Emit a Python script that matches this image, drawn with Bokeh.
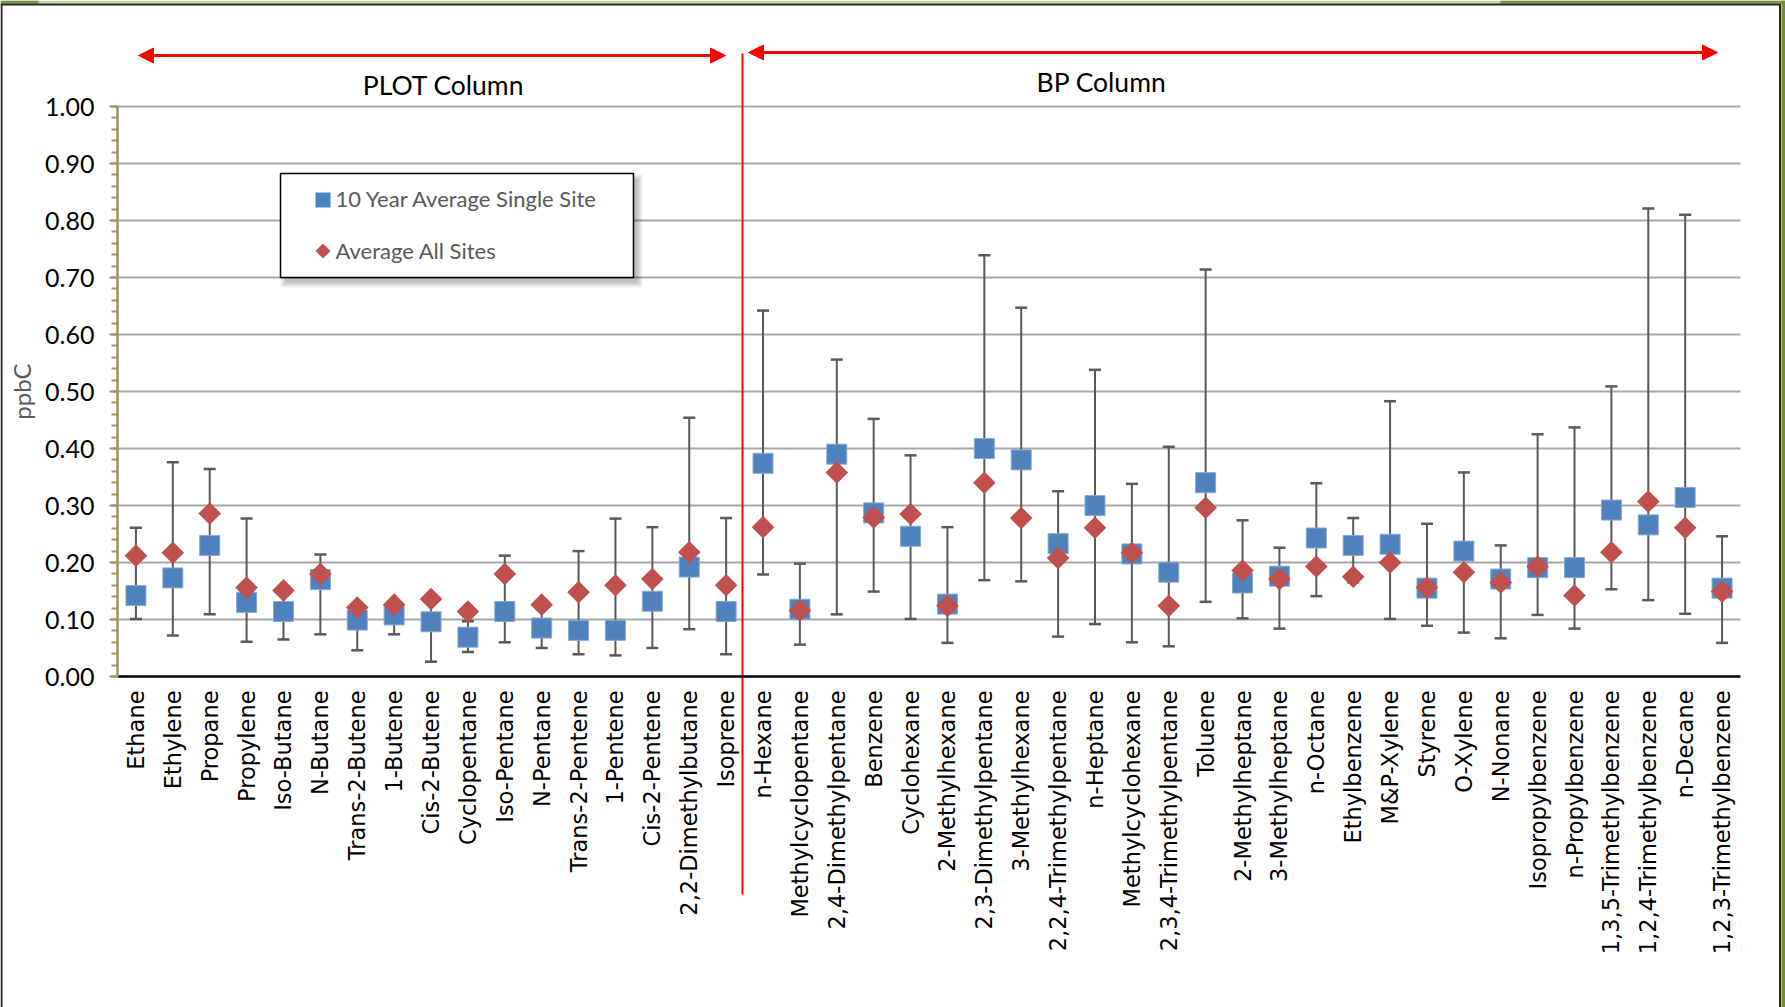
import numpy as np
from bokeh.plotting import figure
from bokeh.models import (ColumnDataSource, Range1d, LinearAxis, FixedTicker,
                          NumeralTickFormatter, Arrow, NormalHead)
from bokeh.core.properties import value
from bokeh.embed import file_html
from bokeh.resources import INLINE

# ---------------------------------------------------------------- data (ppbC)
compounds = [
    "Ethane", "Ethylene", "Propane", "Propylene", "Iso-Butane", "N-Butane",
    "Trans-2-Butene", "1-Butene", "Cis-2-Butene", "Cyclopentane", "Iso-Pentane",
    "N-Pentane", "Trans-2-Pentene", "1-Pentene", "Cis-2-Pentene",
    "2,2-Dimethylbutane", "Isoprene",
    "n-Hexane", "Methylcyclopentane", "2,4-Dimethylpentane", "Benzene",
    "Cyclohexane", "2-Methylhexane", "2,3-Dimethylpentane", "3-Methylhexane",
    "2,2,4-Trimethylpentane", "n-Heptane", "Methylcyclohexane",
    "2,3,4-Trimethylpentane", "Toluene", "2-Methylheptane", "3-Methylheptane",
    "n-Octane", "Ethylbenzene", "M&P-Xylene", "Styrene", "O-Xylene", "N-Nonane",
    "Isopropylbenzene", "n-Propylbenzene", "1,3,5-Trimethylbenzene",
    "1,2,4-Trimethylbenzene", "n-Decane", "1,2,3-Trimethylbenzene",
]
single_site = [
    0.142, 0.173, 0.230, 0.130, 0.114, 0.170, 0.099, 0.108, 0.096, 0.069, 0.114,
    0.085, 0.081, 0.081, 0.132, 0.192, 0.114,
    0.374, 0.118, 0.390, 0.287, 0.246, 0.127, 0.400, 0.380, 0.233, 0.300, 0.215,
    0.183, 0.340, 0.164, 0.176, 0.243, 0.230, 0.232, 0.155, 0.220, 0.171, 0.191,
    0.191, 0.292, 0.266, 0.314, 0.155,
]
all_sites = [
    0.212, 0.217, 0.286, 0.156, 0.151, 0.180, 0.121, 0.126, 0.136, 0.114, 0.180,
    0.126, 0.148, 0.160, 0.171, 0.218, 0.160,
    0.262, 0.116, 0.358, 0.279, 0.285, 0.124, 0.340, 0.278, 0.208, 0.261, 0.217,
    0.124, 0.296, 0.186, 0.171, 0.193, 0.175, 0.200, 0.156, 0.183, 0.165, 0.193,
    0.142, 0.218, 0.307, 0.261, 0.149,
]
range_low = [
    0.101, 0.072, 0.109, 0.061, 0.065, 0.074, 0.046, 0.074, 0.026, 0.043, 0.060,
    0.050, 0.039, 0.037, 0.050, 0.083, 0.039,
    0.179, 0.056, 0.109, 0.149, 0.101, 0.059, 0.169, 0.167, 0.070, 0.092, 0.060,
    0.053, 0.131, 0.102, 0.084, 0.141, 0.165, 0.101, 0.089, 0.077, 0.067, 0.108,
    0.084, 0.153, 0.134, 0.110, 0.059,
]
range_high = [
    0.261, 0.376, 0.364, 0.277, 0.150, 0.214, 0.118, 0.124, 0.130, 0.097, 0.212,
    0.123, 0.220, 0.277, 0.262, 0.454, 0.278,
    0.642, 0.198, 0.556, 0.452, 0.388, 0.262, 0.739, 0.647, 0.325, 0.538, 0.338,
    0.403, 0.714, 0.274, 0.226, 0.339, 0.278, 0.483, 0.268, 0.358, 0.230, 0.425,
    0.437, 0.509, 0.821, 0.810, 0.246,
]
n_plot_column = 17
y_ticks = [0.0, 0.1, 0.2, 0.3, 0.4, 0.5, 0.6, 0.7, 0.8, 0.9, 1.0]
series_names = ["10 Year Average Single Site", "Average All Sites"]
column_names = ["PLOT Column", "BP Column"]
y_title = "ppbC"

# ---------------------------------------------------------------- page geometry
W, H = 1785, 1007
FRAME_L, FRAME_R = 117, 1740      # pixel span of the category area
FRAME_TOP, FRAME_BOTTOM = 106, 676  # pixel rows of 1.00 and 0.00
n = len(compounds)
px_x = (FRAME_R - FRAME_L) / n
px_y = (FRAME_BOTTOM - FRAME_TOP) / (y_ticks[-1] - y_ticks[0])


def dx(px):
    return (px - FRAME_L) / px_x


def dy(py):
    return (FRAME_BOTTOM - py) / px_y


BLUE = "#4F81BD"
RED = "#C0504D"
ERR = "#595959"
GRID = "#A6A6A6"
KHAKI = "#A0925C"

p = figure(width=W, height=H, output_backend="svg", toolbar_location=None,
           x_range=Range1d(dx(0), dx(W)), y_range=Range1d(dy(H), dy(0)),
           x_axis_location=None, y_axis_location=None, min_border=0,
           outline_line_color=None, background_fill_color="white",
           border_fill_color="white")
p.xgrid.visible = False
p.ygrid.visible = False

# ---------------------------------------------------------------- axes
minor = [round(0.02 * k, 2) for k in range(51)]
y_axis = LinearAxis(
    fixed_location=0, bounds=(y_ticks[0], y_ticks[-1]),
    ticker=FixedTicker(ticks=y_ticks, minor_ticks=minor),
    formatter=NumeralTickFormatter(format="0.00"),
    axis_line_color=KHAKI, axis_line_width=2.5,
    major_tick_line_color=KHAKI, major_tick_line_width=2,
    major_tick_out=8, major_tick_in=0,
    minor_tick_line_color=KHAKI, minor_tick_line_width=2,
    minor_tick_out=6, minor_tick_in=0,
    major_label_text_font="Lato", major_label_text_font_size="25px",
    major_label_text_color="black", major_label_standoff=15,
    axis_label=y_title, axis_label_text_font="Lato",
    axis_label_text_font_size="24px", axis_label_text_font_style="normal",
    axis_label_text_color="#595959", axis_label_standoff=6,
)
p.add_layout(y_axis, "left")

centers = [i + 0.5 for i in range(n)]
x_axis = LinearAxis(
    fixed_location=0, bounds=(0, n),
    ticker=FixedTicker(ticks=centers, minor_ticks=[]),
    major_label_overrides={c: name for c, name in zip(centers, compounds)},
    major_label_orientation=np.pi / 2,
    major_tick_out=0, major_tick_in=0, minor_tick_out=0, minor_tick_in=0,
    axis_line_color="black", axis_line_width=2.5,
    major_label_text_font="DejaVu Sans", major_label_text_font_size="22.5px",
    major_label_text_color="black", major_label_standoff=14,
)
p.add_layout(x_axis, "below")

# horizontal gridlines across the category area
p.segment(x0=0, x1=n, y0=y_ticks[1:], y1=y_ticks[1:],
          line_color=GRID, line_width=2)

# ---------------------------------------------------------------- series
src = ColumnDataSource(dict(x=centers, single=single_site, allsites=all_sites,
                            low=range_low, high=range_high))
p.segment(x0="x", x1="x", y0="low", y1="high", source=src,
          line_color=ERR, line_width=2)
p.scatter(x="x", y="low", source=src, marker="dash", size=12,
          line_color=ERR, line_width=2.5)
p.scatter(x="x", y="high", source=src, marker="dash", size=12,
          line_color=ERR, line_width=2.5)
p.scatter(x="x", y="single", source=src, marker="square", size=20,
          fill_color=BLUE, line_color="#86A8D6", line_width=1)
p.scatter(x="x", y="allsites", source=src, marker="square", angle=np.pi / 4,
          size=16, fill_color=RED, line_color=None)

# ---------------------------------------------------------------- column split
p.segment(x0=dx(742), x1=dx(742), y0=dy(53), y1=dy(894),
          line_color="red", line_width=2)
for xs, xe, yy in [(138, 725, 55), (748, 1717, 52)]:
    p.add_layout(Arrow(
        start=NormalHead(size=15, fill_color="red", line_color="red"),
        end=NormalHead(size=15, fill_color="red", line_color="red"),
        x_start=dx(xs), x_end=dx(xe), y_start=dy(yy), y_end=dy(yy),
        line_color="red", line_width=3))
p.text(x=[dx(443), dx(1101)], y=[dy(84), dy(81)], text=column_names,
       text_font=value("Lato"), text_font_size="26.5px", text_color="black",
       text_align="center", text_baseline="middle")

# ---------------------------------------------------------------- legend box
LL, LT, LR, LB = 280, 173, 633, 277
for e in range(6):
    p.quad(left=dx(LL + 5 - e), right=dx(LR + 4 + e),
           top=dy(LT + 6 - e), bottom=dy(LB + 5 + e),
           fill_color="black", fill_alpha=0.045, line_color=None)
p.quad(left=dx(LL), right=dx(LR), top=dy(LT), bottom=dy(LB),
       fill_color="white", line_color="black", line_width=1.5)
p.scatter(x=[dx(322.5)], y=[dy(199.5)], marker="square", size=15,
          fill_color=BLUE, line_color=None)
p.scatter(x=[dx(322.5)], y=[dy(250.5)], marker="square", angle=np.pi / 4,
          size=10.6, fill_color=RED, line_color=None)
p.text(x=[dx(335), dx(335)], y=[dy(198), dy(250)], text=series_names,
       text_font=value("Lato"), text_font_size="22px", text_color="#595959",
       text_align="left", text_baseline="middle")

# ---------------------------------------------------------------- page frame
p.quad(left=dx(0), right=dx(W), top=dy(0), bottom=dy(3),
       fill_color="#C3D69B", line_color=None)
p.quad(left=dx(0), right=dx(38), top=dy(0), bottom=dy(3),
       fill_color="#77933C", line_color=None)
p.quad(left=dx(1500), right=dx(W), top=dy(0), bottom=dy(3),
       fill_color="#77933C", line_color=None)
p.quad(left=dx(1781), right=dx(W), top=dy(0), bottom=dy(H),
       fill_color="#6F8F30", line_color=None)
p.segment(x0=[dx(0), dx(1), dx(1779.5)], x1=[dx(1780.5), dx(1), dx(1779.5)],
          y0=[dy(4), dy(4), dy(4)], y1=[dy(4), dy(H), dy(H)],
          line_color="#262626", line_width=2)

open("out.html", "w").write(file_html(p, INLINE, title="Hydrocarbon concentrations"))
